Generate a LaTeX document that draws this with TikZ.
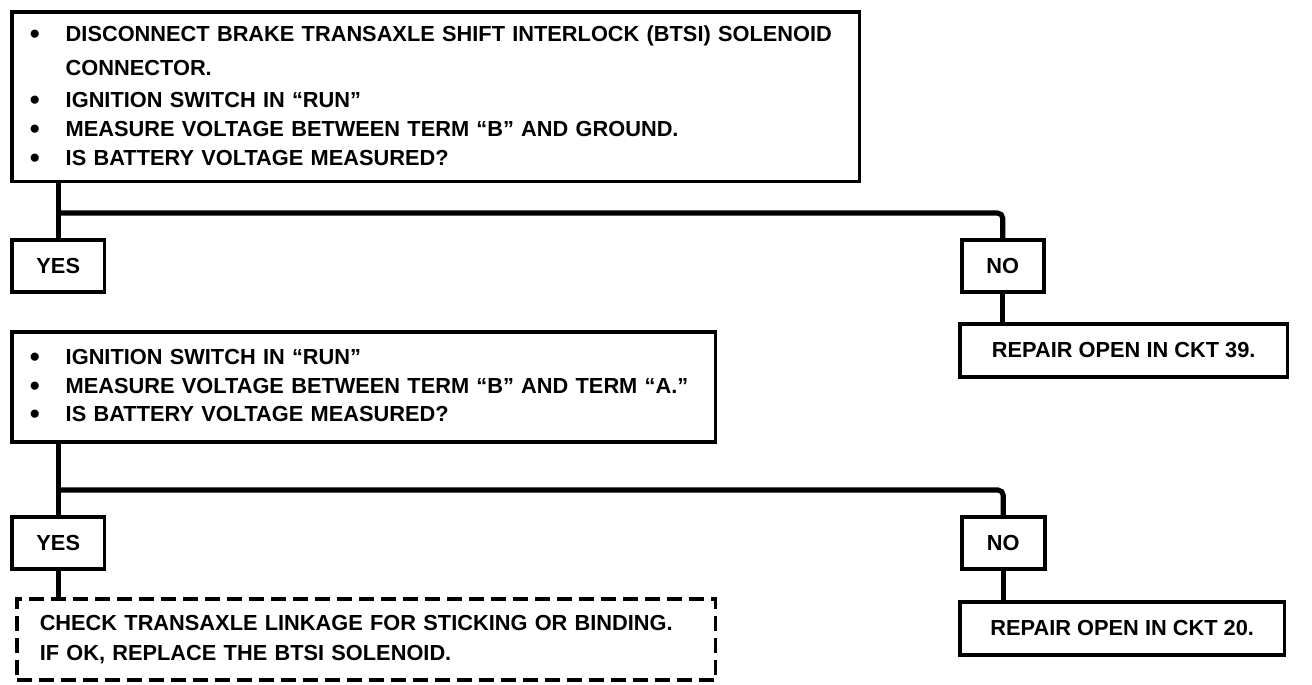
\documentclass[tikz,border=0pt]{standalone}
\usepackage{fontspec}
\setmainfont{Liberation Sans}
\usetikzlibrary{positioning, calc}
\newcommand{\bul}{\makebox[0.72cm][l]{\raisebox{-1.1pt}{\scalebox{1.3}{\textbullet}}}}
\newcommand{\hang}{\hspace*{0.72cm}}
\tikzset{
    base/.style={
        draw,
        line width=2pt,
        inner ysep=0pt,
        anchor=north west,
        font=\fontsize{12.4}{16.6}\selectfont\bfseries
    },
    stepbox/.style={base, align=left, inner xsep=0.36cm},
    answer/.style={base, minimum width=1.86cm, minimum height=1.04cm, align=center, inner xsep=0pt},
    repair/.style={base, minimum width=6.56cm, minimum height=1.06cm, align=center, inner xsep=0pt},
    link/.style={line width=2.9pt, draw=black}
}

\begin{document}
\begin{tikzpicture}[
            x=0.02cm, y=-0.02cm,
            checkbox/.style={base, dash pattern=on 0.3cm off 0.14cm, align=left, inner xsep=0.46cm, text width=13.06cm, minimum height=1.62cm, font=\fontsize{12.4}{17}\selectfont\bfseries}
        ]
            \useasboundingbox (0,0) rectangle (1312,684);
            % Nodes
            \node[stepbox, text width=16.24cm, minimum height=3.4cm, yshift=-0.04cm] (step1) at (10,8)
                {\bul DISCONNECT BRAKE TRANSAXLE SHIFT INTERLOCK (BTSI) SOLENOID\\[2.7pt]
                 \hang CONNECTOR.\\[1.6pt]
                 \bul IGNITION SWITCH IN “RUN”\\
                 \bul MEASURE VOLTAGE BETWEEN TERM “B” AND GROUND.\\
                 \bul IS BATTERY VOLTAGE MEASURED?};
            \node[answer] (yes1) at (10,238) {YES};
            \node[answer, minimum width=1.64cm] (no1) at (960,238) {NO};
            \node[repair] (fix1) at (958,322) {REPAIR OPEN IN CKT 39.};
            \node[stepbox, text width=13.36cm, minimum height=2.2cm, font=\fontsize{12.4}{16.2}\selectfont\bfseries] (step2) at (10,330)
                {\bul IGNITION SWITCH IN “RUN”\\
                 \bul MEASURE VOLTAGE BETWEEN TERM “B” AND TERM “A.”\\
                 \bul IS BATTERY VOLTAGE MEASURED?};
            \node[answer] (yes2) at (10,515) {YES};
            \node[answer, minimum width=1.66cm] (no2) at (960,515) {NO};
            \node[repair, minimum width=6.5cm] (fix2) at (958,600) {REPAIR OPEN IN CKT 20.};
            \node[checkbox] (check) at (15,597)
                {CHECK TRANSAXLE LINKAGE FOR STICKING OR BINDING.\\
                 IF OK, REPLACE THE BTSI SOLENOID.};

            % Arrows
            \path (yes1.north) ++(0,-25) coordinate (split1);
            \path (yes2.north) ++(0,-25) coordinate (split2);
            \draw[link] (step1.south -| yes1.north) -- (yes1.north);
            \draw[link, rounded corners=3pt] (split1) -| (no1.north);
            \draw[link] (no1) -- (fix1.north -| no1.south);
            \draw[link] (step2.south -| yes2.north) -- (yes2.north);
            \draw[link, rounded corners=3pt] (split2) -| (no2.north);
            \draw[link] (no2) -- (fix2.north -| no2.south);
            \draw[link] (yes2) -- (check.north -| yes2.south);
        \end{tikzpicture}
\end{document}
